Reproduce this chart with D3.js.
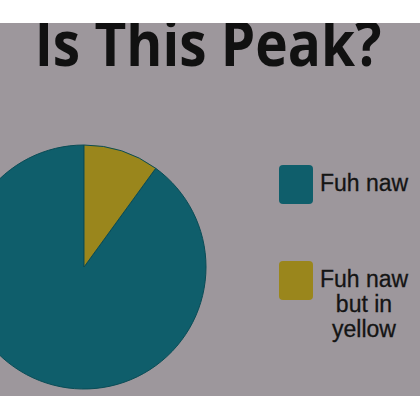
<!DOCTYPE html>
<html>
<head>
<meta charset="utf-8">
<script src="https://cdn.jsdelivr.net/npm/d3@7"></script>
<style>
  html, body { margin: 0; padding: 0; background: #ffffff; }
  svg { display: block; }
</style>
</head>
<body>
<div class="container"></div>
<script>
// chart data
var title = "Is This Peak?";
var categories = ["Fuh naw", "Fuh naw but in yellow"];
var values = [90, 10];
var legendLines = [["Fuh naw"], ["Fuh naw", "but in", "yellow"]];
var colors = ["#0f5e6b", "#9a861c"];

var w = 420,
  h = 420;

var svg = d3
  .select(".container")
  .append("svg")
  .attr("width", w)
  .attr("height", h);

// grey panel, photo is cropped with white bands top and bottom
svg
  .append("rect")
  .attr("x", 0)
  .attr("y", 23)
  .attr("width", w)
  .attr("height", 373)
  .attr("fill", "#9d979c");

svg
  .append("text")
  .attr("transform", "translate(208,66) scale(1,1.15)")
  .attr("text-anchor", "middle")
  .style("font-family", "'Open Sans', sans-serif")
  .style("font-weight", "bold")
  .style("font-size", "55px")
  .attr("fill", "#111")
  .text(title);

// yellow slice sits just right of 12 o'clock, so start teal after it
var yellowShare = values[1] / d3.sum(values);
var pie = d3
  .pie()
  .sort(null)
  .startAngle(2 * Math.PI * yellowShare)
  .endAngle(2 * Math.PI * (1 + yellowShare))
  .value((d) => d);

var arc = d3.arc().innerRadius(0).outerRadius(122);

var color = d3.scaleOrdinal().domain(categories).range(colors);

var pieG = svg.append("g").attr("transform", "translate(84,267)");

pieG
  .selectAll("path")
  .data(pie(values))
  .enter()
  .append("path")
  .attr("d", arc)
  .attr("fill", (d, i) => color(categories[i]))
  .attr("stroke", "#0a4c56")
  .attr("stroke-width", 1);

// legend
var legendY = d3.scalePoint().domain(categories).range([184, 280]);

var legend = svg
  .selectAll(".legend")
  .data(categories)
  .enter()
  .append("g")
  .attr("class", "legend")
  .attr("transform", (d) => "translate(279," + (legendY(d) - 19) + ")");

legend
  .append("rect")
  .attr("width", 34)
  .attr("height", 39)
  .attr("rx", 4)
  .attr("fill", (d) => color(d));

legend
  .append("text")
  .attr("text-anchor", "middle")
  .style("font-family", "'Liberation Sans', Arial, sans-serif")
  .style("font-size", "23px")
  .attr("fill", "#141414")
  .attr("stroke", "#141414")
  .attr("stroke-width", 0.3)
  .each(function (d, i) {
    var t = d3.select(this);
    legendLines[i].forEach((line, j) => {
      t.append("tspan")
        .attr("x", 85)
        .attr("y", 26 + j * 25)
        .text(line);
    });
  });

// white band on top of the title
svg
  .append("rect")
  .attr("x", 0)
  .attr("y", 0)
  .attr("width", w)
  .attr("height", 23)
  .attr("fill", "#ffffff");
</script>
</body>
</html>
